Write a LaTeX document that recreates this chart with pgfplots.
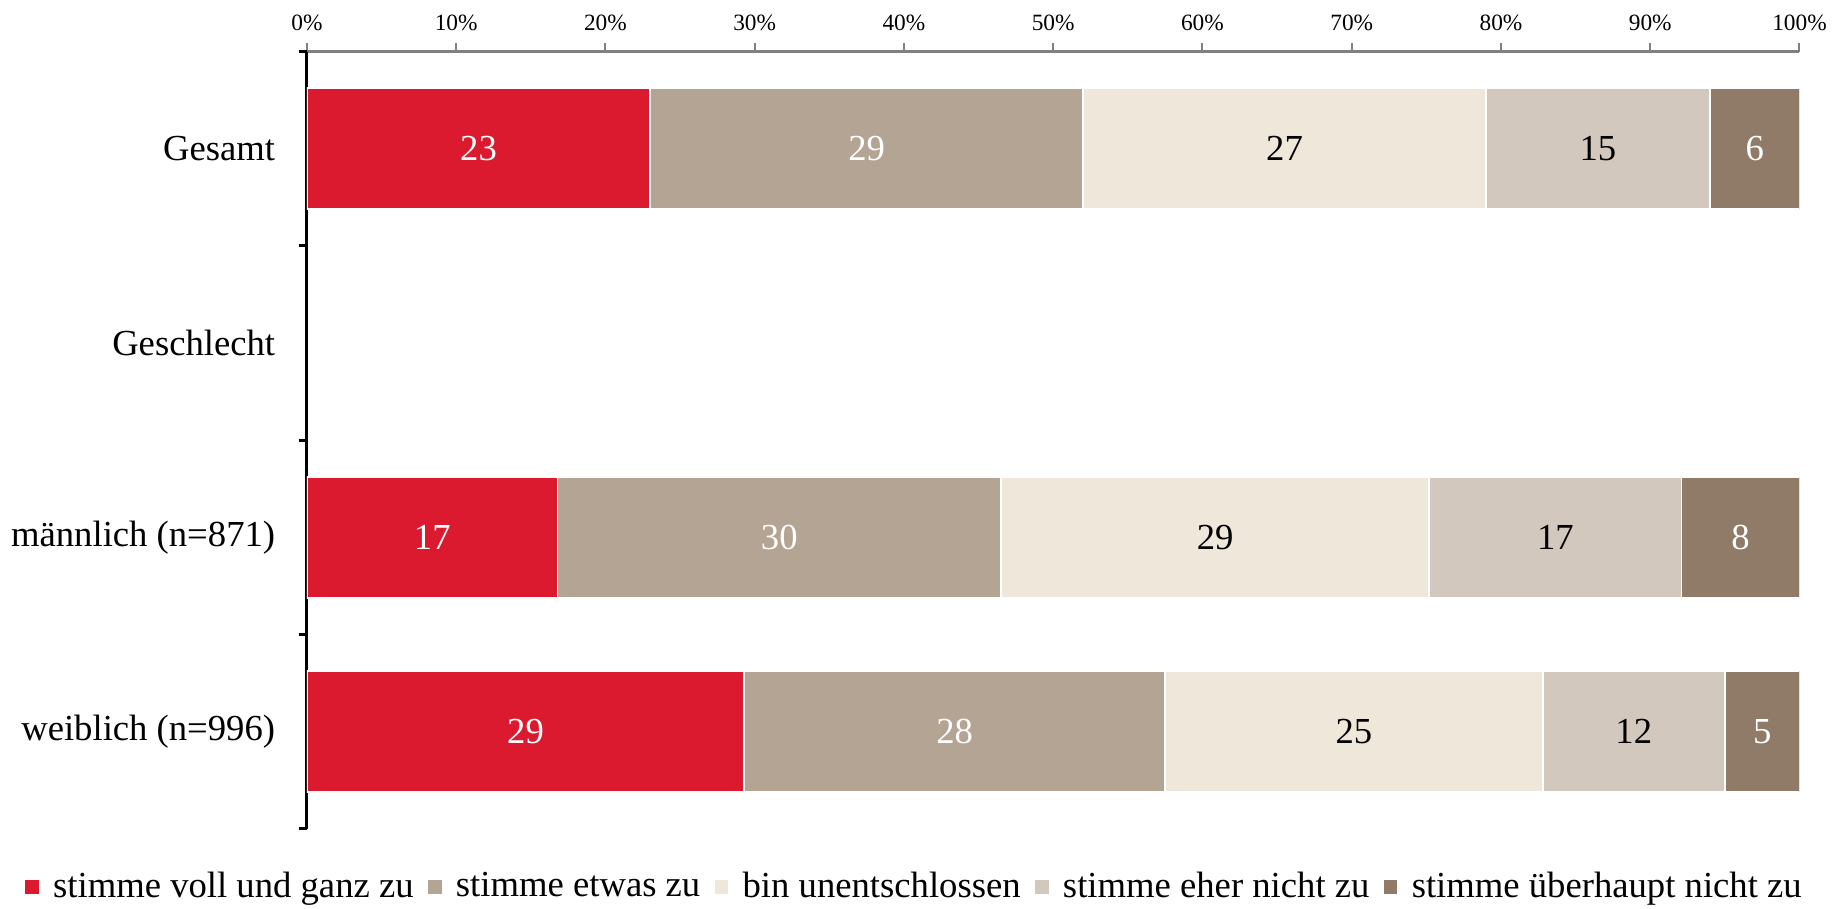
\documentclass[border=0pt]{standalone}
\usepackage{pgfplots}
\pgfplotsset{compat=1.18}
\usepackage{fontspec}
\setmainfont{Liberation Serif}
\definecolor{cA}{RGB}{220,26,47}
\definecolor{cB}{RGB}{179,164,148}
\definecolor{cC}{RGB}{240,231,219}
\definecolor{cD}{RGB}{210,200,190}
\definecolor{cE}{RGB}{143,123,103}
\definecolor{axgray}{RGB}{128,128,128}
\begin{document}
\begin{tikzpicture}
\begin{axis}[
  name=main,
  scale only axis, width=447.8pt, height=233.1pt,
  xbar stacked, bar width=36.3pt,
  xmin=0, xmax=100, ymin=-0.5, ymax=3.5,
  axis x line*=top, axis y line*=left,
  x axis line style={axgray, line width=0.9pt},
  y axis line style={black, line width=0.9pt},
  tick align=outside,
  xtick={0,10,...,100},
  xticklabel={\pgfmathprintnumber{\tick}\%},
  /pgf/number format/assume math mode=true,
  xticklabel style={font=\fontsize{7}{8}\selectfont, text=black, yshift=0.3pt},
  x tick style={axgray, line width=0.6pt},
  major tick length=2.5pt,
  ytick={-0.5,0.5,1.5,2.5,3.5},
  yticklabels={},
  y tick style={black, line width=0.9pt},
  extra y ticks={0,1,2,3},
  extra y tick labels={weiblich (n=996), männlich (n=871), Geschlecht, Gesamt},
  extra y tick style={major tick length=0pt, tick style={draw=none},
     yticklabel style={font=\fontsize{11}{13}\selectfont, xshift=-6pt}},
  legend style={at={(0.4075,-0.0755)}, anchor=center, draw=none,
     legend columns=5, font=\fontsize{11}{13}\selectfont, inner sep=0pt,
     column sep=2.3pt, nodes={inner xsep=1.5pt, inner ysep=0pt}},
  legend image code/.code={\fill[#1] (0pt,-2.3pt) rectangle (4.6pt,2.3pt);},
]
\addplot[fill=cA, draw=white, line width=0.5pt] coordinates {(29.3,0) (16.8,1) (23,3)};
\addlegendentry{stimme voll und ganz zu}
\addplot[fill=cB, draw=white, line width=0.5pt] coordinates {(28.2,0) (29.7,1) (29,3)};
\addlegendentry{stimme etwas zu\hspace{7pt}}
\addplot[fill=cC, draw=white, line width=0.5pt] coordinates {(25.3,0) (28.7,1) (27,3)};
\addlegendentry{bin unentschlossen}
\addplot[fill=cD, draw=white, line width=0.5pt] coordinates {(12.2,0) (16.9,1) (15,3)};
\addlegendentry{stimme eher nicht zu}
\addplot[fill=cE, draw=white, line width=0.5pt] coordinates {(5.0,0) (7.9,1) (6,3)};
\addlegendentry{stimme überhaupt nicht zu}
\end{axis}
\begin{axis}[
  scale only axis, width=447.8pt, height=233.1pt,
  xmin=0, xmax=100, ymin=-0.5, ymax=3.5, hide axis,
  point meta=explicit symbolic,
  every node near coord/.append style={anchor=center, font=\fontsize{11}{13}\selectfont},
]
\addplot[draw=none, mark=none, nodes near coords,
  every node near coord/.append style={text=white}] table[meta=label] {
x y label
11.5 3 23
37.5 3 29
97.0 3 6
8.4 1 17
31.65 1 30
96.05 1 8
14.65 0 29
43.4 0 28
97.5 0 5
};
\addplot[draw=none, mark=none, nodes near coords,
  every node near coord/.append style={text=black}] table[meta=label] {
x y label
65.5 3 27
86.5 3 15
60.85 1 29
83.65 1 17
70.15 0 25
88.9 0 12
};
\end{axis}
\path (main.south west) ++(-92.04pt,-24.09pt) rectangle ++(552.9pt,272.7pt);
\end{tikzpicture}
\end{document}
